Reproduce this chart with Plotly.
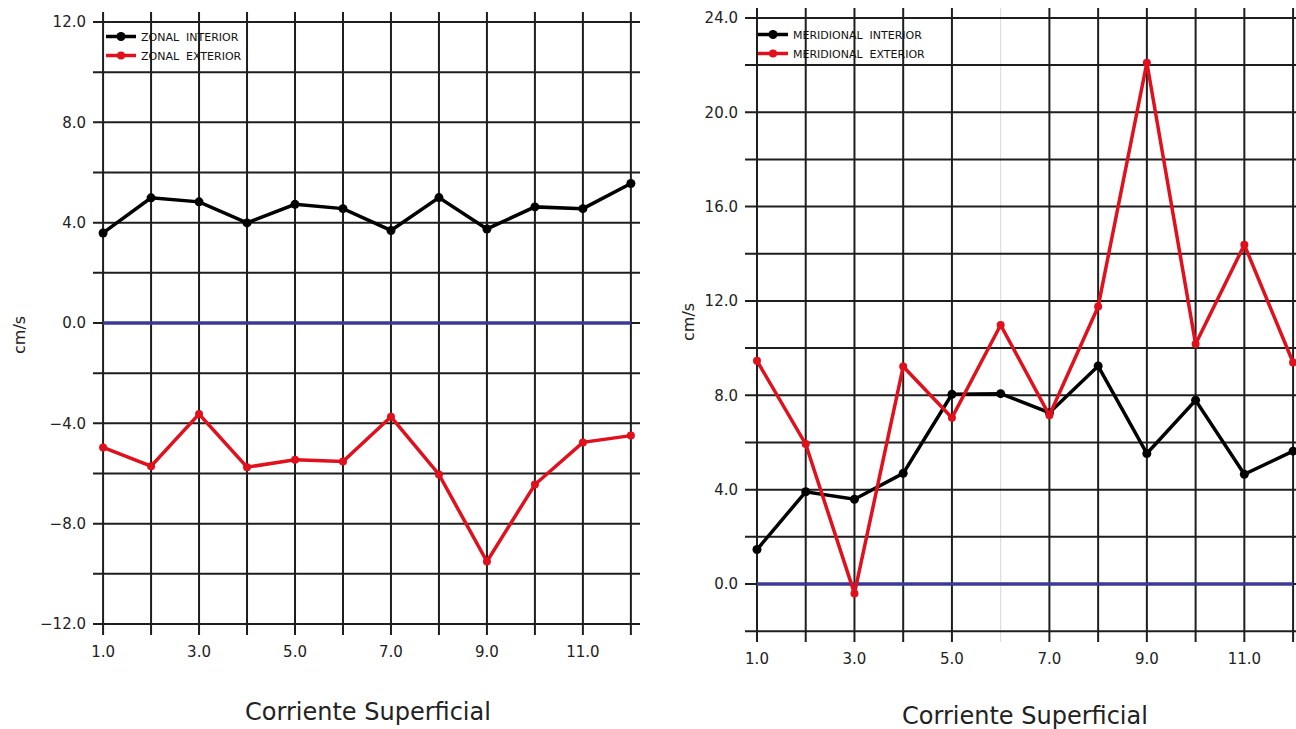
import plotly.graph_objects as go

# ---------------- data ----------------
x_vals = [1, 2, 3, 4, 5, 6, 7, 8, 9, 10, 11, 12]

zonal_interior = [3.59, 4.99, 4.83, 3.99, 4.73, 4.56, 3.69, 5.00, 3.75, 4.63, 4.56, 5.56]
zonal_exterior = [-4.96, -5.71, -3.63, -5.75, -5.45, -5.52, -3.74, -6.04, -9.51, -6.44, -4.76, -4.49]

merid_interior = [1.46, 3.91, 3.59, 4.69, 8.04, 8.07, 7.26, 9.24, 5.53, 7.79, 4.65, 5.63]
merid_exterior = [9.46, 5.93, -0.40, 9.22, 7.05, 10.98, 7.15, 11.76, 22.10, 10.17, 14.38, 9.39]

zero_line = [0.0] * 12

x_tickvals = [1, 3, 5, 7, 9, 11]
x_ticktext = ["1.0", "3.0", "5.0", "7.0", "9.0", "11.0"]

left_y_tickvals = [-12, -8, -4, 0, 4, 8, 12]
left_y_ticktext = ["\u221212.0", "\u22128.0", "\u22124.0", "0.0", "4.0", "8.0", "12.0"]
right_y_tickvals = [0, 4, 8, 12, 16, 20, 24]
right_y_ticktext = ["0.0", "4.0", "8.0", "12.0", "16.0", "20.0", "24.0"]

left_hgrid = list(range(-12, 13, 2))
right_hgrid = list(range(-2, 25, 2))
vgrid = list(range(1, 13))

x_title = "Corriente Superficial"
y_title = "cm/s"

# ---------------- styles ----------------
BLACK = "#000000"
RED = "#e0101c"
BLUE = "#3a3a96"
GRID = "#1e1e1e"
FONT = "DejaVu Sans"

W, H = 1296, 729

def px(x):
    return x / W

def py(y):
    return 1 - y / H

fig = go.Figure()

def add_panel(xa, ya, interior, exterior, n_int, n_ext, legend):
    fig.add_trace(go.Scatter(x=x_vals, y=zero_line, mode="lines",
                             line=dict(color=BLUE, width=3.5),
                             xaxis=xa, yaxis=ya, showlegend=False, hoverinfo="skip"))
    fig.add_trace(go.Scatter(x=x_vals, y=interior, mode="lines+markers", name=n_int,
                             line=dict(color=BLACK, width=3.5),
                             marker=dict(color=BLACK, size=9, symbol="circle"),
                             xaxis=xa, yaxis=ya, legend=legend))
    fig.add_trace(go.Scatter(x=x_vals, y=exterior, mode="lines+markers", name=n_ext,
                             line=dict(color=RED, width=3.5),
                             marker=dict(color=RED, size=8, symbol="circle"),
                             xaxis=xa, yaxis=ya, legend=legend))

add_panel("x", "y", zonal_interior, zonal_exterior, "ZONAL  INTERIOR", "ZONAL  EXTERIOR", "legend")
add_panel("x2", "y2", merid_interior, merid_exterior, "MERIDIONAL  INTERIOR", "MERIDIONAL  EXTERIOR", "legend2")

shapes = []
for xr, yr, hgrid, light in [("x", "y", left_hgrid, []), ("x2", "y2", right_hgrid, [6])]:
    for v in vgrid:
        col = "#d8d8d8" if v in light else GRID
        w = 1 if v in light else 2
        shapes.append(dict(type="line", xref=xr, yref=yr + " domain", x0=v, x1=v, y0=0, y1=1,
                           line=dict(color=col, width=w), layer="below"))
    for h in hgrid:
        shapes.append(dict(type="line", xref=xr + " domain", yref=yr, x0=0, x1=1, y0=h, y1=h,
                           line=dict(color=GRID, width=2), layer="below"))

tickfont = dict(family=FONT, size=15, color="#222222")

axis_common = dict(showgrid=False, zeroline=False, showline=False, ticks="",
                   tickfont=tickfont, automargin=False)

fig.update_layout(
    width=W, height=H,
    margin=dict(l=0, r=0, t=0, b=0, autoexpand=False),
    paper_bgcolor="white", plot_bgcolor="white",
    shapes=shapes,
    xaxis=dict(domain=[px(93), px(640)], range=[0.79, 12.19], anchor="y",
               tickvals=x_tickvals, ticktext=x_ticktext, ticklabelstandoff=6, **axis_common),
    yaxis=dict(domain=[py(635), py(12)], range=[-12.44, 12.4], anchor="x",
               tickvals=left_y_tickvals, ticktext=left_y_ticktext, ticklabelstandoff=6, **axis_common),
    xaxis2=dict(domain=[px(745), 1.0], range=[0.754, 12.06], anchor="y2",
                tickvals=x_tickvals, ticktext=x_ticktext, ticklabelstandoff=6, **axis_common),
    yaxis2=dict(domain=[py(642), py(8)], range=[-2.46, 24.42], anchor="x2",
                tickvals=right_y_tickvals, ticktext=right_y_ticktext, ticklabelstandoff=6, **axis_common),
    legend=dict(x=px(101), y=py(22), xanchor="left", yanchor="top",
                bgcolor="rgba(0,0,0,0)", font=dict(family=FONT, size=11, color="#111111"),
                tracegroupgap=0, itemwidth=30),
    legend2=dict(x=px(753), y=py(20), xanchor="left", yanchor="top",
                 bgcolor="rgba(0,0,0,0)", font=dict(family=FONT, size=11, color="#111111"),
                 tracegroupgap=0, itemwidth=30),
    annotations=[
        dict(text=x_title, xref="paper", yref="paper", x=px(368), y=py(712),
             xanchor="center", yanchor="middle",
             showarrow=False, font=dict(family=FONT, size=24, color="#222222")),
        dict(text=x_title, xref="paper", yref="paper", x=px(1025), y=py(716),
             xanchor="center", yanchor="middle",
             showarrow=False, font=dict(family=FONT, size=24, color="#222222")),
        dict(text=y_title, xref="paper", yref="paper", x=px(20), y=py(335),
             xanchor="center", yanchor="middle",
             showarrow=False, textangle=-90, font=dict(family=FONT, size=16, color="#222222")),
        dict(text=y_title, xref="paper", yref="paper", x=px(688), y=py(322),
             xanchor="center", yanchor="middle",
             showarrow=False, textangle=-90, font=dict(family=FONT, size=16, color="#222222")),
    ],
)

fig.write_html(
    "out.html",
    config={"displayModeBar": False},
    post_script="document.body.style.margin='0px';document.body.style.overflow='hidden';",
)
